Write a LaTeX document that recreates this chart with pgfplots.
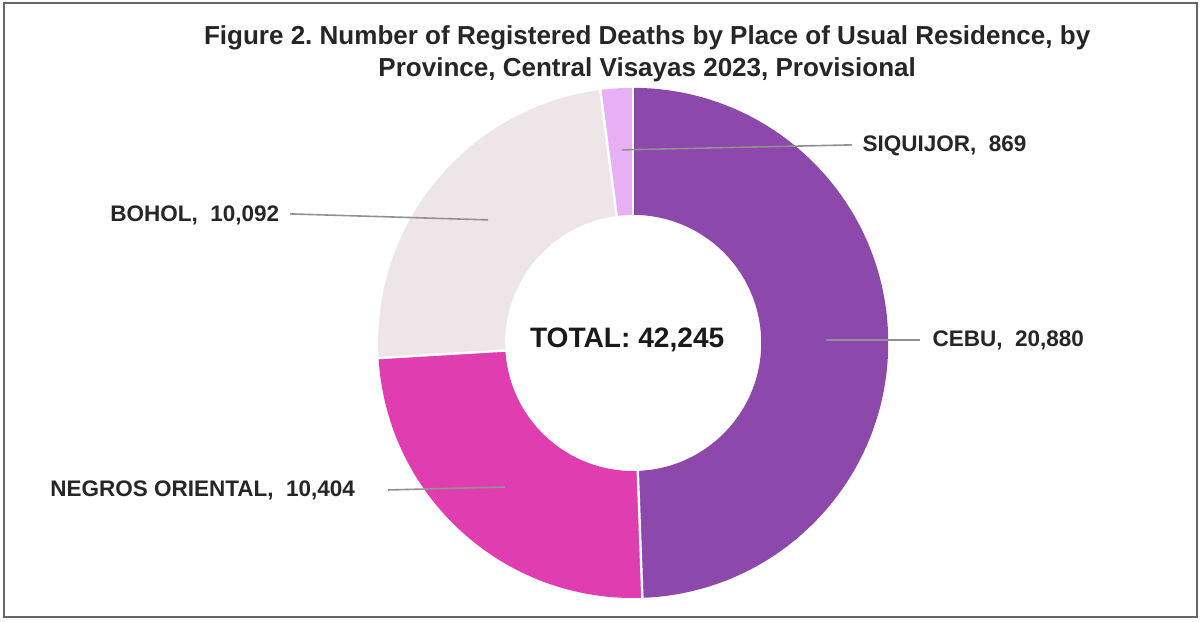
\documentclass[border=0pt]{standalone}
\usepackage{pgfplots}
\usepackage{pgfplotstable}
\usepackage{fontspec}
\setmainfont{Liberation Sans}
\pgfplotsset{compat=1.18}
\frenchspacing

\definecolor{cebu}{RGB}{140,72,170}
\definecolor{negros}{RGB}{224,62,176}
\definecolor{bohol}{RGB}{238,229,233}
\definecolor{siquijor}{RGB}{232,176,244}
\definecolor{leader}{RGB}{145,145,145}

% registered deaths, Central Visayas 2023 (provisional)
\pgfplotstableread{
province value
CEBU 20880
NEGROS 10404
BOHOL 10092
SIQUIJOR 869
}\deaths

\newcommand\slice[3]{%
  \fill[#3] ([shift={(#1:\Ro)}]axis cs:633,278) arc[start angle=#1, end angle=#2, radius=\Ro]
    -- ([shift={(#2:\Ri)}]axis cs:633,278) arc[start angle=#2, end angle=#1, radius=\Ri] -- cycle;}
\newcommand\gap[1]{%
  \draw[white, line width=0.06cm] ([shift={(#1:3.1cm)}]axis cs:633,278) -- ([shift={(#1:6.45cm)}]axis cs:633,278);}

\begin{document}
\begin{tikzpicture}[x=0.025cm,y=0.025cm]
  \pgfplotstablegetelem{0}{value}\of\deaths \edef\vA{\pgfplotsretval}
  \pgfplotstablegetelem{1}{value}\of\deaths \edef\vB{\pgfplotsretval}
  \pgfplotstablegetelem{2}{value}\of\deaths \edef\vC{\pgfplotsretval}
  \pgfplotstablegetelem{3}{value}\of\deaths \edef\vD{\pgfplotsretval}
  \edef\total{\fpeval{\vA+\vB+\vC+\vD}}
  % slices run clockwise from 12 o'clock
  \edef\aA{90}
  \edef\aB{\fpeval{90-360*\vA/\total}}
  \edef\aC{\fpeval{\aB-360*\vB/\total}}
  \edef\aD{\fpeval{\aC-360*\vC/\total}}
  \edef\aE{\fpeval{\aD-360*\vD/\total}}
  \def\Ro{6.375cm}
  \def\Ri{3.2cm}
  \begin{axis}[
    at={(0,0)}, anchor=south west,
    scale only axis, width=30.025cm, height=15.525cm,
    xmin=0, xmax=1201, ymin=0, ymax=621,
    hide axis, clip=false,
  ]
    \slice{\aA}{\aB}{cebu}
    \slice{\aB}{\aC}{negros}
    \slice{\aC}{\aD}{bohol}
    \slice{\aD}{\aE}{siquijor}
    \gap{\aA}
    \gap{\aB}
    \gap{\aC}
    \gap{\aD}

    % leader lines
    \draw[leader, line width=0.04cm] (axis cs:622,471) -- (axis cs:852,476);
    \draw[leader, line width=0.04cm] (axis cs:290,407) -- (axis cs:488,401);
    \draw[leader, line width=0.04cm] (axis cs:826,281) -- (axis cs:920,281);
    \draw[leader, line width=0.04cm] (axis cs:388,131) -- (axis cs:505,134);

    \tikzset{lbl/.style={anchor=west, font=\bfseries\fontsize{16}{19}\selectfont, text=black!85, inner sep=0pt}}
    \node[lbl] at (axis cs:862,475) {SIQUIJOR,\ \ 869};
    \node[lbl] at (axis cs:110,406) {BOHOL,\ \ 10,092};
    \node[lbl] at (axis cs:932,281) {CEBU,\ \ 20,880};
    \node[lbl] at (axis cs:50,131) {NEGROS ORIENTAL,\ \ 10,404};
    \node[anchor=center, font=\bfseries\fontsize{20}{24}\selectfont, text=black!90, inner sep=0pt] at (axis cs:627,281) {TOTAL: 42,245};

    \node[align=center, font=\bfseries\fontsize{18.5}{22.5}\selectfont, text=black!85, inner sep=0pt] at (axis cs:647,567)
      {Figure 2. Number of Registered Deaths by Place of Usual Residence, by\\ Province, Central Visayas 2023, Provisional};
  \end{axis}
  \draw[black!60, line width=0.05cm] (4,4) rectangle (1197,618);
  \path (0,0) rectangle (1201,621);
\end{tikzpicture}
\end{document}
